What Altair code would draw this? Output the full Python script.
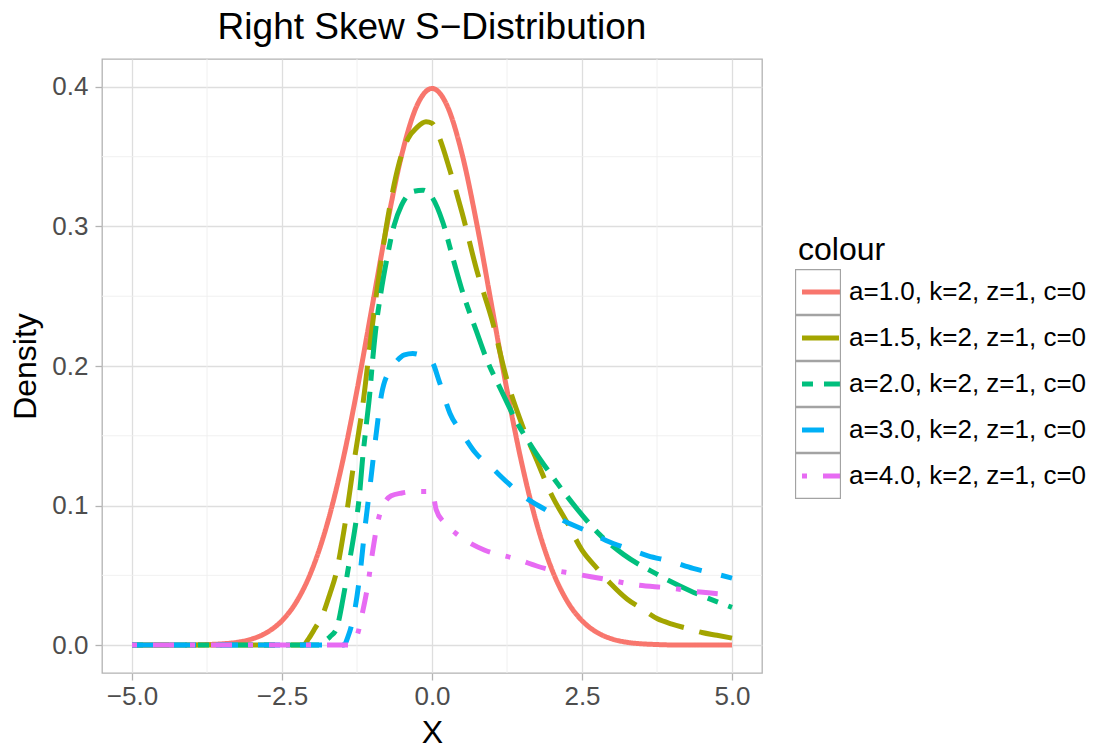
import altair as alt
import pandas as pd

FONT = "Liberation Sans"

SERIES = ["a=1.0, k=2, z=1, c=0", "a=1.5, k=2, z=1, c=0", "a=2.0, k=2, z=1, c=0",
          "a=3.0, k=2, z=1, c=0", "a=4.0, k=2, z=1, c=0"]
COLORS = ["#F8766D", "#A3A500", "#00BF7D", "#00B0F6", "#E76BF3"]
DASHES = [[1, 0], [37, 16], [11, 11, 33, 11], [22, 20], [5, 16, 21, 16]]

X_TICKS = [-5, -2.5, 0, 2.5, 5]
Y_TICKS = [0.0, 0.1, 0.2, 0.3, 0.4]
X_MINOR = [-3.75, -1.25, 1.25, 3.75]
Y_MINOR = [0.05, 0.15, 0.25, 0.35]

# a = 1.0
x_a10 = [-5, -4.75, -4.5, -4.25, -4, -3.75, -3.5, -3.25, -3, -2.75, -2.5, -2.25, -2, -1.75,
         -1.5, -1.25, -1, -0.75, -0.5, -0.25, 0, 0.25, 0.5, 0.75, 1, 1.25, 1.5, 1.75, 2,
         2.25, 2.5, 2.75, 3, 3.25, 3.5, 3.75, 4, 4.25, 4.5, 4.75, 5]
y_a10 = [0.0, 0.0, 0.0, 0.0001, 0.0001, 0.0004, 0.0009, 0.002, 0.0044, 0.0091, 0.0175, 0.0317,
         0.054, 0.0863, 0.1295, 0.1826, 0.242, 0.3011, 0.3521, 0.3867, 0.3989, 0.3867, 0.3521,
         0.3011, 0.242, 0.1826, 0.1295, 0.0863, 0.054, 0.0317, 0.0175, 0.0091, 0.0044, 0.002,
         0.0009, 0.0004, 0.0001, 0.0001, 0.0, 0.0, 0.0]
# a = 1.5
x_a15 = [-5, -2.15, -2.05, -1.95, -1.82, -1.7, -1.6, -1.46, -1.29, -1.16, -1.0, -0.85, -0.7,
         -0.55, -0.4, -0.25, -0.1, 0.0, 0.1, 0.3, 0.5, 0.75, 1.0, 1.25, 1.5, 1.75, 2.0, 2.25,
         2.5, 2.75, 3.0, 3.25, 3.5, 3.75, 4.0, 4.25, 4.5, 4.75, 5.0]
y_a15 = [0.0, 0.0, 0.005, 0.012, 0.022, 0.037, 0.051, 0.084, 0.134, 0.170, 0.227, 0.275, 0.315,
         0.345, 0.363, 0.371, 0.375, 0.374, 0.366, 0.340, 0.310, 0.268, 0.233, 0.190, 0.158,
         0.132, 0.107, 0.088, 0.068, 0.055, 0.043, 0.033, 0.026, 0.019, 0.015, 0.012, 0.009,
         0.007, 0.005]
# a = 2.0
x_a20 = [-5, -1.88, -1.82, -1.7, -1.59, -1.48, -1.38, -1.29, -1.21, -1.16, -1.10, -1.04, -0.99,
         -0.93, -0.85, -0.76, -0.63, -0.51, -0.32, -0.15, 0.0, 0.18, 0.35, 0.51, 0.74, 0.90,
         1.16, 1.41, 1.68, 2.02, 2.41, 2.80, 3.19, 3.74, 4.30, 5.0]
y_a20 = [0.0, 0.0, 0.002, 0.006, 0.012, 0.034, 0.059, 0.082, 0.107, 0.132, 0.156, 0.179, 0.204,
         0.229, 0.253, 0.275, 0.301, 0.315, 0.325, 0.326, 0.321, 0.303, 0.277, 0.253, 0.225,
         0.206, 0.182, 0.160, 0.141, 0.120, 0.098, 0.079, 0.065, 0.051, 0.039, 0.027]
# a = 3.0
x_a30 = [-5, -1.47, -1.40, -1.31, -1.20, -1.12, -1.03, -0.94, -0.84, -0.72, -0.60, -0.46, -0.32,
         -0.15, 0.0, 0.12, 0.30, 0.50, 0.72, 1.0, 1.27, 1.55, 1.89, 2.2, 2.57, 2.9, 3.27, 3.6,
         3.98, 4.35, 4.73, 5.0]
y_a30 = [0.0, 0.0, 0.006, 0.020, 0.051, 0.083, 0.115, 0.148, 0.180, 0.196, 0.203, 0.208, 0.209,
         0.207, 0.203, 0.189, 0.166, 0.152, 0.138, 0.127, 0.116, 0.106, 0.097, 0.089, 0.082,
         0.075, 0.069, 0.064, 0.060, 0.055, 0.051, 0.048]
# a = 4.0
x_a40 = [-5, -1.38, -1.30, -1.24, -1.16, -1.07, -0.99, -0.90, -0.80, -0.68, -0.50, -0.30, -0.10,
         0.0, 0.07, 0.2, 0.40, 0.6, 0.88, 1.38, 1.88, 2.39, 2.91, 3.42, 3.94, 4.47, 5.0]
y_a40 = [0.0, 0.0, 0.003, 0.008, 0.023, 0.043, 0.067, 0.089, 0.101, 0.107, 0.109, 0.110, 0.110,
         0.110, 0.097, 0.088, 0.080, 0.074, 0.068, 0.062, 0.055, 0.051, 0.047, 0.043, 0.041,
         0.038, 0.036]

XS = [x_a10, x_a15, x_a20, x_a30, x_a40]
YS = [y_a10, y_a15, y_a20, y_a30, y_a40]

rows = []
for name, xs, ys in zip(SERIES, XS, YS):
    for i, (xv, yv) in enumerate(zip(xs, ys)):
        rows.append({"series": name, "x": xv, "y": yv, "i": i})
df = pd.DataFrame(rows)

BOX_KEYS = [s + " " for s in SERIES]
box_df = pd.DataFrame({"key": BOX_KEYS, "v": [None] * len(BOX_KEYS)})

# legend key box outline (filled ring, no stroke) plus two invisible bound points
RING = ("M-1,-1H1V1H-1Z M-0.95,-0.95V0.95H0.95V-0.95Z "
        "M-1.261,0L-1.261,0 M1.261,0L1.261,0")
# legend key line, with two invisible bound points
KEYLINE = "M-0.927,0H0.927M-0.634,-0.634L-0.634,-0.634M0.634,0.634L0.634,0.634"

x_scale = alt.Scale(domain=[-5.5, 5.5], nice=False, zero=False)
y_scale = alt.Scale(domain=[-0.02, 0.42], nice=False, zero=False)

X_AXIS = alt.Axis(values=X_TICKS, format=".1f", labelPadding=3, titlePadding=8,
                  labelOverlap=False)
Y_AXIS = alt.Axis(values=Y_TICKS, format=".1f", labelPadding=7, titlePadding=9,
                  labelOverlap=False)

LEG_X = 693
LEG_Y = 176
TITLE_FS = 32
TITLE_PAD = 2


def xenc(field):
    return alt.X(field, scale=x_scale, title="X", axis=X_AXIS)


def yenc(field):
    return alt.Y(field, scale=y_scale, title="Density", axis=Y_AXIS)


vminor = alt.Chart(pd.DataFrame({"xm": X_MINOR})).mark_rule(
    color="#EEEEEE", strokeWidth=0.9
).encode(x=xenc("xm:Q"))

hminor = alt.Chart(pd.DataFrame({"ym": Y_MINOR})).mark_rule(
    color="#EEEEEE", strokeWidth=0.9
).encode(y=yenc("ym:Q"))

lines = alt.Chart(df).mark_line(strokeWidth=5, strokeCap="butt", interpolate="monotone").encode(
    x=xenc("x:Q"),
    y=yenc("y:Q"),
    color=alt.Color("series:N", scale=alt.Scale(domain=SERIES, range=COLORS),
                    legend=alt.Legend(orient="none", legendX=LEG_X + 3, legendY=LEG_Y,
                                      title="colour", titleFontSize=TITLE_FS, titleFont=FONT,
                                      titleFontWeight="normal", titleColor="black",
                                      titlePadding=TITLE_PAD, labelFontSize=26, labelFont=FONT,
                                      labelColor="black", labelOffset=5, labelLimit=400,
                                      symbolType=KEYLINE, symbolSize=41 ** 2,
                                      symbolStrokeWidth=5, rowPadding=0, padding=0)),
    strokeDash=alt.StrokeDash("series:N", scale=alt.Scale(domain=SERIES, range=DASHES),
                              legend=None),
    order="i:Q",
)

boxes = alt.Chart(box_df).mark_point(filled=True, color="#A3A3A3", opacity=1).encode(
    x=xenc("v:Q"),
    y=yenc("v:Q"),
    shape=alt.Shape("key:N", scale=alt.Scale(domain=BOX_KEYS, range=[RING] * 5),
                    legend=alt.Legend(orient="none", legendX=LEG_X,
                                      legendY=LEG_Y + TITLE_FS + TITLE_PAD,
                                      title=None, labelFontSize=26, labelFont=FONT,
                                      labelExpr="''", labelOffset=5,
                                      symbolType=RING, symbolSize=46 ** 2,
                                      symbolFillColor="#A3A3A3", symbolStrokeWidth=0,
                                      symbolOpacity=1, rowPadding=0, padding=0)),
)

chart = alt.layer(vminor, hminor, lines, boxes).properties(
    width=660, height=614,
    padding={"left": 1, "top": 0, "right": 5, "bottom": 0},
    title=alt.TitleParams("Right Skew S\u2212Distribution", fontSize=37, font=FONT,
                          fontWeight="normal", color="black", anchor="middle",
                          frame="group", baseline="top", offset=12),
).configure_view(
    stroke="#B3B3B3", strokeWidth=1.3
).configure_axis(
    labelFont=FONT, labelFontSize=26, labelColor="#4D4D4D",
    titleFont=FONT, titleFontSize=32, titleFontWeight="normal", titleColor="black",
    tickColor="#B3B3B3", tickSize=7, tickWidth=1.3, domain=False,
    gridColor="#DEDEDE", gridWidth=1.3,
)

chart.save("out.html", embed_options={"renderer": "svg", "actions": False})
